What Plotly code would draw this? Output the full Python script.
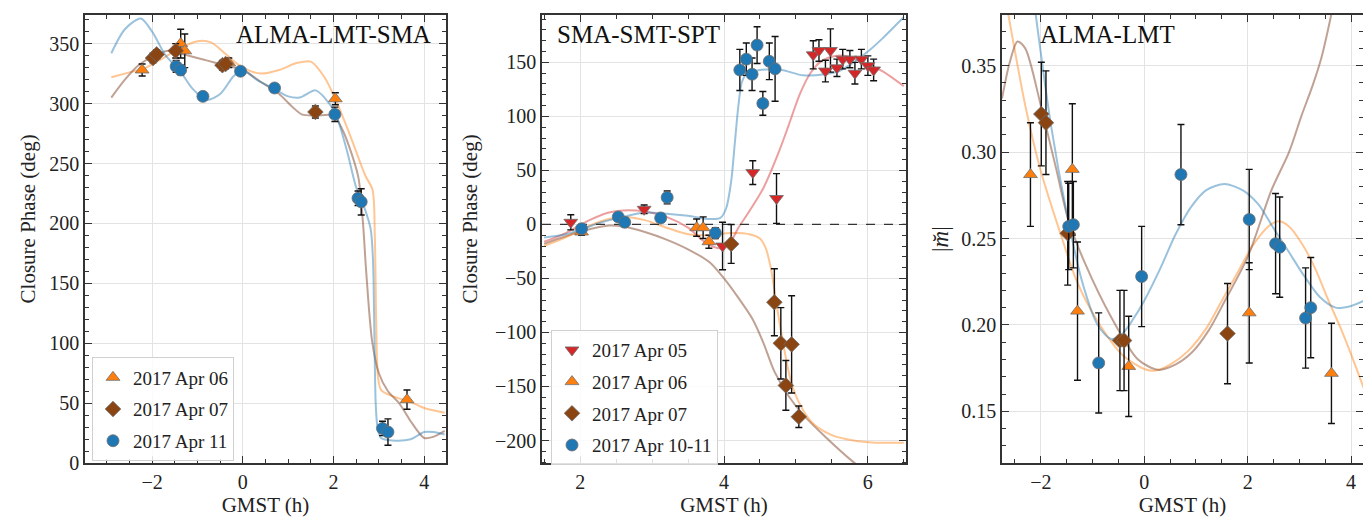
import plotly.graph_objects as go

# ---------------- Panel 1: ALMA-LMT-SMA closure phase ----------------
p1_a06_x = [-2.22, -1.37, -1.28, -0.31, 2.04, 3.62]
p1_a06_y = [328, 350, 344, 334, 304, 53]
p1_a06_e = [5, 12, 14, 4, 5, 8]

p1_a07_x = [-1.98, -1.90, -1.48, -0.45, -0.38, 1.60]
p1_a07_y = [338, 341, 344, 332, 333, 293]
p1_a07_e = [4, 4, 6, 4, 4, 5]

p1_a11_x = [-1.47, -1.37, -0.88, -0.05, 0.70, 2.03, 2.54, 2.61, 3.08, 3.20]
p1_a11_y = [331, 328, 306, 327, 313, 291, 221, 218, 29, 26]
p1_a11_e = [5, 4, 3, 3, 3, 6, 6, 11, 6, 11]

p1_blue_x = [-2.9, -2.6, -2.25, -2.0, -1.7, -1.4, -1.1, -0.8, -0.5, -0.2, 0.0, 0.3, 0.7, 1.0,
             1.25, 1.6, 1.8, 2.05, 2.3, 2.5, 2.7, 2.82, 2.87, 2.9, 2.93, 2.97, 3.05, 3.3, 3.7,
             4.0, 4.2, 4.45]
p1_blue_y = [342, 362, 371, 360, 340, 328, 312, 303, 308, 323, 328, 320, 312, 306,
             305, 311, 305, 291, 260, 230, 211, 195, 170, 110, 50, 30, 21, 19, 20,
             26, 26, 24]

p1_orange_x = [-2.9, -2.5, -2.2, -1.8, -1.4, -1.0, -0.7, -0.4, 0.0, 0.4, 0.8, 1.2, 1.5, 1.8,
               2.05, 2.4, 2.7, 2.86, 2.91, 2.94, 2.98, 3.05, 3.3, 3.7, 4.0, 4.45]
p1_orange_y = [322, 326, 329, 337, 346, 352, 351, 342, 330, 325, 328, 334, 335, 322,
               303, 270, 240, 228, 190, 120, 72, 61, 56, 51, 46, 42]

p1_brown_x = [-2.9, -2.6, -2.3, -2.0, -1.65, -1.3, -0.8, -0.4, 0.0, 0.4, 0.8, 1.1, 1.3, 1.6,
              2.0, 2.2, 2.4, 2.55, 2.65, 2.72, 2.85, 3.0, 3.2, 3.45, 3.7, 4.0, 4.2, 4.45]
p1_brown_y = [305, 320, 332, 339, 344, 341, 336, 332, 328, 318, 308, 297, 291, 290,
              290, 278, 258, 238, 200, 160, 102, 75, 60, 50, 35, 21, 22, 27]

# ---------------- Panel 2: SMA-SMT-SPT closure phase ----------------
p2_a05_x = [1.87, 2.89, 3.98, 4.40, 4.73, 5.24, 5.32, 5.41, 5.48, 5.57, 5.65, 5.75, 5.82, 5.91, 6.00, 6.08]
p2_a05_y = [2, 14, -20, 48, 24, 157, 161, 142, 161, 145, 153, 153, 140, 153, 147, 143]
p2_a05_e = [7, 4, 22, 11, 23, 13, 10, 10, 20, 8, 9, 8, 10, 9, 9, 10]

p2_a06_x = [2.02, 3.62, 3.71, 3.79]
p2_a06_y = [-7, -3, -3, -16]
p2_a06_e = [3, 8, 10, 6]

p2_a07_x = [4.10, 4.70, 4.79, 4.86, 4.94, 5.04]
p2_a07_y = [-18, -72, -110, -149, -111, -178]
p2_a07_e = [18, 31, 33, 23, 45, 10]

p2_a10_x = [2.02, 2.53, 2.62, 3.12, 3.21, 3.88, 4.22, 4.31, 4.39, 4.46, 4.54, 4.63, 4.71]
p2_a10_y = [-4, 7, 2, 6, 25, -8, 143, 153, 139, 166, 112, 151, 144]
p2_a10_e = [3, 3, 4, 4, 6, 5, 19, 15, 15, 17, 11, 17, 30]

p2_blue_x = [1.5, 1.8, 2.0, 2.3, 2.6, 2.9, 3.2, 3.5, 3.8, 3.95, 4.03, 4.1, 4.15, 4.2, 4.25,
             4.32, 4.5, 4.8, 5.1, 5.4, 5.6, 5.8, 6.0, 6.2, 6.5]
p2_blue_y = [-12, -9, -5, 2, 7, 11, 10, 8, 5, 6, 15, 40, 75, 110, 132,
             140, 143, 143, 138, 139, 142, 150, 160, 172, 192]

p2_red_x = [1.5, 1.8, 2.1, 2.4, 2.6, 2.9, 3.2, 3.5, 3.75, 3.95, 4.1, 4.2, 4.35, 4.55, 4.75,
            4.9, 5.05, 5.2, 5.35, 5.55, 5.75, 5.95, 6.2, 6.5]
p2_red_y = [-16, -8, 3, 11, 13, 12, 7, -3, -17, -22, -15, -3, 12, 34, 65,
            92, 120, 140, 151, 156, 155, 149, 142, 128]

p2_orange_x = [1.5, 1.8, 2.1, 2.4, 2.6, 2.9, 3.2, 3.5, 3.8, 4.1, 4.35, 4.5, 4.58, 4.65, 4.75,
               4.85, 4.95, 5.1, 5.25, 5.5, 5.8, 6.1, 6.5]
p2_orange_y = [-20, -12, -2, 5, 7, 4, -3, -9, -10, -8, -9, -13, -22, -40, -82,
               -120, -150, -172, -185, -195, -200, -202, -202]

p2_brown_x = [1.5, 1.8, 2.1, 2.4, 2.6, 2.9, 3.2, 3.5, 3.8, 4.0, 4.2, 4.4, 4.55, 4.7, 4.9,
              5.1, 5.4, 5.8, 6.0]
p2_brown_y = [-18, -11, -5, -1, -2, -7, -14, -23, -35, -50, -68, -88, -110, -136, -159,
              -176, -196, -220, -230]

zero_level = 0

# ---------------- Panel 3: ALMA-LMT |m| ----------------
p3_a06_x = [-2.20, -1.39, -1.29, -0.30, 2.03, 3.62]
p3_a06_y = [0.287, 0.290, 0.208, 0.176, 0.207, 0.172]
p3_a06_e = [0.030, 0.038, 0.040, 0.029, 0.029, 0.029]

p3_a07_x = [-1.99, -1.90, -1.48, -0.47, -0.39, 1.61]
p3_a07_y = [0.322, 0.317, 0.253, 0.191, 0.191, 0.195]
p3_a07_e = [0.030, 0.030, 0.030, 0.029, 0.029, 0.029]

p3_a11_x = [-1.46, -1.37, -0.88, -0.05, 0.71, 2.03, 2.54, 2.62, 3.12, 3.22]
p3_a11_y = [0.257, 0.258, 0.178, 0.228, 0.287, 0.261, 0.247, 0.245, 0.204, 0.210]
p3_a11_e = [0.025, 0.025, 0.029, 0.029, 0.029, 0.029, 0.029, 0.029, 0.029, 0.029]

p3_blue_x = [-2.1, -1.8, -1.5, -1.2, -0.9, -0.65, -0.45, -0.2, 0.0, 0.3, 0.6, 0.9, 1.2, 1.55,
             1.9, 2.2, 2.5, 2.8, 3.1, 3.4, 3.7, 4.0, 4.25]
p3_blue_y = [0.38, 0.315, 0.265, 0.225, 0.200, 0.192, 0.194, 0.204, 0.214, 0.232, 0.252, 0.268,
             0.278, 0.2815, 0.278, 0.270, 0.256, 0.242, 0.228, 0.216, 0.210, 0.211, 0.214]

p3_orange_x = [-2.63, -2.3, -2.0, -1.6, -1.3, -0.9, -0.4, 0.0, 0.2, 0.5, 0.85, 1.2, 1.5, 1.8,
               2.1, 2.4, 2.6, 2.8, 3.05, 3.3, 3.55, 3.8, 4.0, 4.25]
p3_orange_y = [0.380, 0.327, 0.289, 0.251, 0.225, 0.202, 0.182, 0.1745, 0.1735, 0.177, 0.185,
               0.198, 0.214, 0.230, 0.246, 0.257, 0.260, 0.257, 0.247, 0.233, 0.215, 0.198,
               0.183, 0.163]

p3_brown_x = [-2.75, -2.6, -2.45, -2.3, -2.0, -1.7, -1.47, -1.15, -0.63, -0.12, 0.27, 0.6,
              0.92, 1.25, 1.56, 2.01, 2.46, 2.8, 3.04, 3.25, 3.43, 3.62]
p3_brown_y = [0.331, 0.352, 0.364, 0.360, 0.327, 0.290, 0.261, 0.236, 0.204, 0.180, 0.174,
              0.177, 0.184, 0.197, 0.214, 0.240, 0.278, 0.300, 0.321, 0.338, 0.355, 0.380]

# axis ranges
p1_xrange = [-3.48, 4.48]
p1_yrange = [0, 374]
p2_xrange = [1.47, 6.53]
p2_yrange = [-221, 194]
p3_xrange = [-2.75, 4.23]
p3_yrange = [0.12, 0.3794]

# ---------------- styling ----------------
FONT = "Liberation Serif"
C_BLUE = "#1f77b4"
C_ORANGE = "#ff7f0e"
C_BROWN = "#8b4513"
C_RED = "#d62728"
L_BLUE = "rgba(31,119,180,0.45)"
L_ORANGE = "rgba(255,127,14,0.45)"
L_BROWN = "rgba(140,86,60,0.55)"
L_RED = "rgba(214,39,40,0.45)"

fig = go.Figure()


def curve(x, y, color, xa, ya):
    fig.add_trace(go.Scatter(x=x, y=y, mode="lines", xaxis=xa, yaxis=ya,
                             line=dict(color=color, width=2, shape="spline", smoothing=0.8),
                             showlegend=False, hoverinfo="skip"))


def points(x, y, e, color, symbol, name, xa, ya, legend=None, size=12):
    fig.add_trace(go.Scatter(
        x=x, y=y, mode="markers", xaxis=xa, yaxis=ya, name=name,
        marker=dict(color=color, symbol=symbol, size=size,
                    line=dict(color="rgba(110,110,110,0.8)", width=1)),
        error_y=dict(type="data", array=e, color="#111", thickness=1.4, width=3.5),
        showlegend=legend is not None, legend=legend if legend else "legend",
        legendgroup=(legend or "") + name))


# panel 1
curve(p1_orange_x, p1_orange_y, L_ORANGE, "x", "y")
curve(p1_brown_x, p1_brown_y, L_BROWN, "x", "y")
curve(p1_blue_x, p1_blue_y, L_BLUE, "x", "y")
points(p1_a06_x, p1_a06_y, p1_a06_e, C_ORANGE, "triangle-up", "2017 Apr 06", "x", "y", "legend")
points(p1_a07_x, p1_a07_y, p1_a07_e, C_BROWN, "diamond", "2017 Apr 07", "x", "y", "legend")
points(p1_a11_x, p1_a11_y, p1_a11_e, C_BLUE, "circle", "2017 Apr 11", "x", "y", "legend")

# panel 2
curve(p2_brown_x, p2_brown_y, L_BROWN, "x2", "y2")
curve(p2_orange_x, p2_orange_y, L_ORANGE, "x2", "y2")
curve(p2_red_x, p2_red_y, L_RED, "x2", "y2")
curve(p2_blue_x, p2_blue_y, L_BLUE, "x2", "y2")
fig.add_trace(go.Scatter(x=p2_xrange, y=[zero_level, zero_level], mode="lines", xaxis="x2", yaxis="y2",
                         line=dict(color="#333", width=1.3, dash="dash"),
                         showlegend=False, hoverinfo="skip"))
points(p2_a05_x, p2_a05_y, p2_a05_e, C_RED, "triangle-down", "2017 Apr 05", "x2", "y2", "legend2")
points(p2_a06_x, p2_a06_y, p2_a06_e, C_ORANGE, "triangle-up", "2017 Apr 06", "x2", "y2", "legend2")
points(p2_a07_x, p2_a07_y, p2_a07_e, C_BROWN, "diamond", "2017 Apr 07", "x2", "y2", "legend2")
points(p2_a10_x, p2_a10_y, p2_a10_e, C_BLUE, "circle", "2017 Apr 10-11", "x2", "y2", "legend2")

# panel 3
curve(p3_orange_x, p3_orange_y, L_ORANGE, "x3", "y3")
curve(p3_brown_x, p3_brown_y, L_BROWN, "x3", "y3")
curve(p3_blue_x, p3_blue_y, L_BLUE, "x3", "y3")
points(p3_a06_x, p3_a06_y, p3_a06_e, C_ORANGE, "triangle-up", "a06", "x3", "y3")
points(p3_a07_x, p3_a07_y, p3_a07_e, C_BROWN, "diamond", "a07", "x3", "y3")
points(p3_a11_x, p3_a11_y, p3_a11_e, C_BLUE, "circle", "a11", "x3", "y3")

W, H = 1371, 522


def dom(a, b, total):
    return [a / total, b / total]


ydom = [(H - 465) / H, (H - 7) / H]


def axis(rng, dtick, minor_dtick, domain=None, anchor=None, tickformat=None, title=None, tick0=0):
    d = dict(range=rng, dtick=dtick, tick0=tick0, showline=True, linecolor="#333", linewidth=1.5,
             mirror="allticks", ticks="inside", ticklen=7, tickwidth=1.2, tickcolor="#333",
             showgrid=True, gridcolor="#e3e3e3", gridwidth=1, zeroline=False,
             minor=dict(ticks="inside", ticklen=4, tickwidth=1, tickcolor="#333",
                        dtick=minor_dtick, tick0=tick0, showgrid=False),
             tickfont=dict(family=FONT, size=20, color="#222"))
    if domain is not None:
        d["domain"] = domain
    if anchor is not None:
        d["anchor"] = anchor
    if tickformat:
        d["tickformat"] = tickformat
    if title:
        d["title"] = dict(text=title, font=dict(family=FONT, size=21, color="#222"), standoff=4)
    return d


fig.update_layout(
    width=W, height=H, margin=dict(l=0, r=0, t=0, b=0),
    paper_bgcolor="white", plot_bgcolor="white",
    font=dict(family=FONT, color="#222"),
    xaxis=axis(p1_xrange, 2, 0.5, dom(77, 438, W), "y", title="GMST (h)"),
    yaxis=axis(p1_yrange, 50, 10, ydom, "x"),
    xaxis2=axis(p2_xrange, 2, 0.5, dom(534, 898, W), "y2", title="GMST (h)"),
    yaxis2=axis(p2_yrange, 50, 10, ydom, "x2"),
    xaxis3=axis(p3_xrange, 2, 0.5, dom(994, 1355, W), "y3", title="GMST (h)"),
    yaxis3=axis(p3_yrange, 0.05, 0.01, ydom, "x3", tickformat=".2f"),
    legend=dict(x=84 / W, y=(H - 357) / H, xanchor="left", yanchor="top",
                bgcolor="rgba(255,255,255,0.85)", bordercolor="#d0d0d0", borderwidth=1,
                font=dict(family=FONT, size=19, color="#222"), tracegroupgap=4,
                itemwidth=30),
    legend2=dict(x=543 / W, y=(H - 329) / H, xanchor="left", yanchor="top",
                 bgcolor="rgba(255,255,255,0.85)", bordercolor="#d0d0d0", borderwidth=1,
                 font=dict(family=FONT, size=19, color="#222"), tracegroupgap=4,
                 itemwidth=30),
    showlegend=True,
)

ann_font = dict(family=FONT, size=25, color="#111")
fig.add_annotation(text="ALMA-LMT-SMA", xref="x domain", yref="y domain", x=0.965, y=0.99,
                   xanchor="right", yanchor="top", showarrow=False, font=ann_font)
fig.add_annotation(text="SMA-SMT-SPT", xref="x2 domain", yref="y2 domain", x=0.035, y=0.99,
                   xanchor="left", yanchor="top", showarrow=False, font=ann_font)
fig.add_annotation(text="ALMA-LMT", xref="x3 domain", yref="y3 domain", x=0.100, y=0.99,
                   xanchor="left", yanchor="top", showarrow=False, font=ann_font)

lab_font = dict(family=FONT, size=21, color="#222")
fig.add_annotation(text="Closure Phase (deg)", xref="paper", yref="paper", x=20 / W, y=(H - 216) / H,
                   xanchor="center", yanchor="middle",
                   textangle=-90, showarrow=False, font=lab_font)
fig.add_annotation(text="Closure Phase (deg)", xref="paper", yref="paper", x=462 / W, y=(H - 216) / H,
                   xanchor="center", yanchor="middle",
                   textangle=-90, showarrow=False, font=lab_font)
fig.add_annotation(text="|<i>m\u0306</i>|", xref="paper", yref="paper", x=932 / W, y=(H - 236) / H,
                   xanchor="center", yanchor="middle",
                   textangle=-90, showarrow=False, font=dict(family=FONT, size=23, color="#222"))

fig.write_html("out.html")
